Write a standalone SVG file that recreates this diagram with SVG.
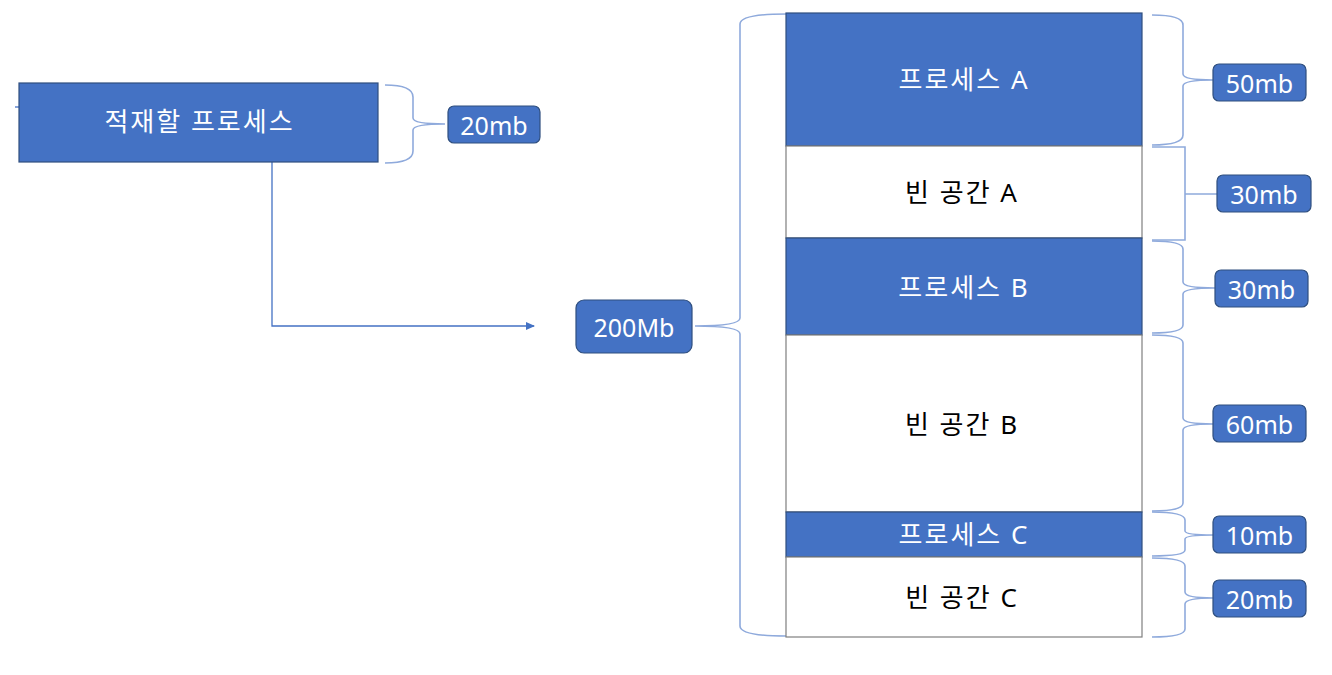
<svg xmlns="http://www.w3.org/2000/svg" width="1332" height="675" viewBox="0 0 1332 675">
<defs>
<style>
.blue{fill:#4472C4;stroke:#2F4F7F;stroke-width:1.2}
.white{fill:#ffffff;stroke:#7F7F7F;stroke-width:1.2}
.lbl{fill:#4472C4;stroke:#2F4F7F;stroke-width:1.2}
.brace{fill:none;stroke:#8FAADC;stroke-width:1.6}
.conn{fill:none;stroke:#4472C4;stroke-width:1.3}
.tw{font-family:"Noto Sans","Noto Sans CJK KR",sans-serif;font-size:26px;letter-spacing:2px;fill:#ffffff;text-anchor:middle;dominant-baseline:central}
.tb{font-family:"Noto Sans","Noto Sans CJK KR",sans-serif;font-size:26px;letter-spacing:2px;fill:#000000;text-anchor:middle;dominant-baseline:central}
.tl{font-family:"Noto Sans","Noto Sans CJK KR",sans-serif;font-size:25px;fill:#ffffff;text-anchor:middle;dominant-baseline:central}
</style>
<marker id="arr" markerWidth="10" markerHeight="10" refX="8" refY="5" orient="auto" markerUnits="userSpaceOnUse">
<path d="M0,1 L9,5 L0,9 Z" fill="#4472C4"/>
</marker>
</defs>
<rect width="1332" height="675" fill="#ffffff"/>

<g id="connectors">
<line x1="15" y1="107" x2="19" y2="107" class="conn"/>
<path class="conn" d="M272,162 L272,326 L534,326" marker-end="url(#arr)"/>
<path class="brace" d="M385,85 Q413,85 413,97 L413,118 Q413,124 445,124 Q413,124 413,130 L413,151 Q413,163 385,163"/>
<path class="brace" d="M786,14 Q740,14 740,24 L740,318 Q740,326 695,326 Q740,326 740,334 L740,626 Q740,636 786,636"/>
<path class="brace" d="M1152,15 Q1183,15 1183,25 L1183,74 Q1183,80 1213,80 Q1183,80 1183,86 L1183,135 Q1183,145 1152,145"/>
<path class="brace" d="M1152,147 L1185,147 L1185,240 L1152,240 M1185,194 L1217,194"/>
<path class="brace" d="M1152,241 Q1183,241 1183,249 L1183,282 Q1183,288 1215,288 Q1183,288 1183,294 L1183,325 Q1183,333 1152,333"/>
<path class="brace" d="M1152,335 Q1183,335 1183,343 L1183,418 Q1183,424 1213,424 Q1183,424 1183,430 L1183,503 Q1183,511 1152,511"/>
<path class="brace" d="M1152,512 Q1185,512 1185,520 L1185,531 Q1185,535 1213,535 Q1185,535 1185,539 L1185,550 Q1185,556 1152,556"/>
<path class="brace" d="M1152,558 Q1185,558 1185,566 L1185,592 Q1185,598 1213,598 Q1185,598 1185,604 L1185,629 Q1185,637 1152,637"/>
</g>

<g id="node-load">
<rect x="19" y="83" width="359" height="79" class="blue"/>
<text x="199.5" y="121" class="tw">적재할 프로세스</text>
</g>
<g id="label-20mb-load">
<rect x="448" y="106" width="92" height="37" rx="6" class="lbl"/>
<text x="494" y="124.5" class="tl">20mb</text>
</g>
<g id="label-200Mb">
<rect x="576" y="300" width="116" height="53" rx="8" class="lbl"/>
<text x="634" y="326.5" class="tl">200Mb</text>
</g>

<g id="seg-procA">
<rect x="786" y="13" width="356" height="133" class="blue"/>
<text x="964" y="78.5" class="tw">프로세스 A</text>
</g>
<g id="seg-emptyA">
<rect x="786" y="146" width="356" height="92" class="white"/>
<text x="962" y="192" class="tb">빈 공간 A</text>
</g>
<g id="seg-procB">
<rect x="786" y="238" width="356" height="97" class="blue"/>
<text x="964" y="286.5" class="tw">프로세스 B</text>
</g>
<g id="seg-emptyB">
<rect x="786" y="335" width="356" height="177" class="white"/>
<text x="962" y="423.5" class="tb">빈 공간 B</text>
</g>
<g id="seg-procC">
<rect x="786" y="512" width="356" height="45" class="blue"/>
<text x="964" y="534" class="tw">프로세스 C</text>
</g>
<g id="seg-emptyC">
<rect x="786" y="557" width="356" height="80" class="white"/>
<text x="962" y="597" class="tb">빈 공간 C</text>
</g>

<g id="label-50mb"><rect x="1213" y="64" width="93" height="37" rx="6" class="lbl"/><text x="1259.5" y="82.5" class="tl">50mb</text></g>
<g id="label-30mb-a"><rect x="1217" y="175" width="94" height="37" rx="6" class="lbl"/><text x="1264" y="193.5" class="tl">30mb</text></g>
<g id="label-30mb-b"><rect x="1215" y="270" width="93" height="37" rx="6" class="lbl"/><text x="1261.5" y="288.5" class="tl">30mb</text></g>
<g id="label-60mb"><rect x="1213" y="405" width="93" height="37" rx="6" class="lbl"/><text x="1259.5" y="423.5" class="tl">60mb</text></g>
<g id="label-10mb"><rect x="1213" y="516" width="93" height="37" rx="6" class="lbl"/><text x="1259.5" y="534.5" class="tl">10mb</text></g>
<g id="label-20mb"><rect x="1213" y="580" width="93" height="37" rx="6" class="lbl"/><text x="1259.5" y="598.5" class="tl">20mb</text></g>
</svg>
